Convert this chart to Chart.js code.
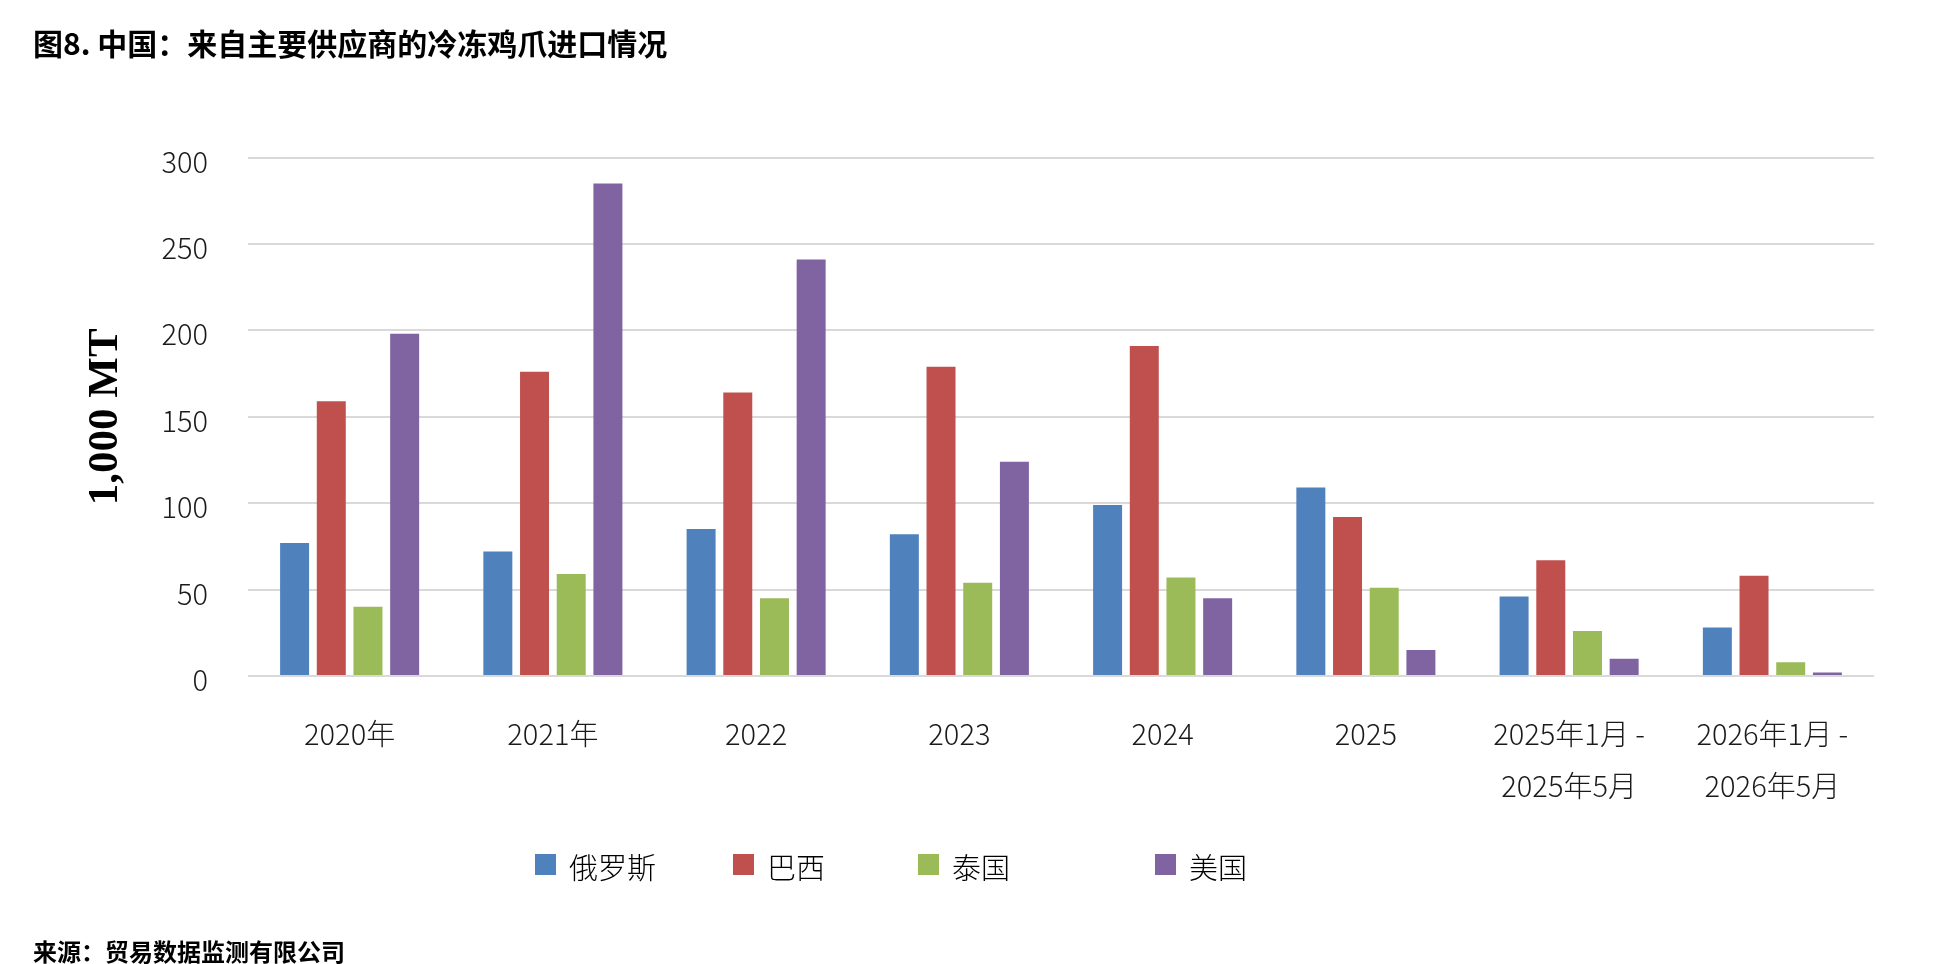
<!DOCTYPE html>
<html>
<head>
<meta charset="utf-8">
<script src="https://cdn.jsdelivr.net/npm/chart.js@4"></script>
<style>
    body { margin: 0; background: #fff; }
</style>
</head>
<body>
<canvas id="importChart" width="1945" height="964"></canvas>
<script>
// Kategori dan data (1,000 MT)
const categories = ['2020年', '2021年', '2022', '2023', '2024', '2025', ['2025年1月 -', '2025年5月'], ['2026年1月 -', '2026年5月']];
const seriesNames = ['俄罗斯', '巴西', '泰国', '美国'];
const russia = [77, 72, 85, 82, 99, 109, 46, 28];
const brazil = [159, 176, 164, 179, 191, 92, 67, 58];
const thailand = [40, 59, 45, 54, 57, 51, 26, 8];
const usa = [198, 285, 241, 124, 45, 15, 10, 2];
const yTicks = [0, 50, 100, 150, 200, 250, 300];

const colors = ['#4F81BD', '#C0504D', '#9BBB59', '#8064A2'];
const cjk = '"Noto Sans CJK SC", "Noto Sans", sans-serif';

// posisi legend (seperti di gambar, jaraknya tidak rata)
const legendX = [535, 733, 918, 1155];

const legendPlugin = {
    id: 'manualLegend',
    afterDraw(chart) {
        const ctx = chart.ctx;
        ctx.save();
        ctx.font = '300 29px ' + cjk;
        ctx.textBaseline = 'middle';
        ctx.textAlign = 'left';
        chart.data.datasets.forEach((ds, i) => {
            const x = legendX[i];
            ctx.fillStyle = ds.backgroundColor;
            ctx.fillRect(x, 854, 21, 21);
            ctx.fillStyle = '#000';
            ctx.fillText(ds.label, x + 34, 868);
        });
        ctx.restore();
    }
};

const data = {
    labels: categories,
    datasets: [russia, brazil, thailand, usa].map((values, i) => ({
        label: seriesNames[i],
        data: values,
        backgroundColor: colors[i],
        borderWidth: 0,
        categoryPercentage: 0.722,
        barPercentage: 0.79,
    }))
};

const options = {
    responsive: false,
    animation: false,
    layout: {
        padding: { left: 33, right: 71, top: 0, bottom: 0 }
    },
    scales: {
        y: {
            min: 0,
            max: 300,
            afterFit(scale) { scale.width = 215; },
            afterBuildTicks(scale) { scale.ticks = yTicks.map(v => ({ value: v })); },
            border: { display: false },
            grid: {
                color: '#d9d9d9',
                lineWidth: 2,
                drawTicks: false,
            },
            ticks: {
                padding: 40,
                labelOffset: 4,
                color: '#1a1a1a',
                font: { family: cjk, size: 29, weight: '300' },
            },
            title: {
                display: true,
                text: '1,000 MT',
                color: '#000',
                padding: { top: 47, bottom: 0 },
                font: { family: '"Liberation Serif", "Times New Roman", serif', size: 43, weight: 'bold' },
            }
        },
        x: {
            afterFit(scale) { scale.height = 264; },
            border: { display: false },
            grid: { display: false, drawTicks: false },
            ticks: {
                padding: 32,
                maxRotation: 0,
                autoSkip: false,
                color: '#1a1a1a',
                font: { family: cjk, size: 29, weight: '300', lineHeight: 1.79 },
            }
        }
    },
    plugins: {
        legend: { display: false },
        tooltip: { enabled: false },
        title: {
            display: true,
            text: '图8. 中国：来自主要供应商的冷冻鸡爪进口情况',
            align: 'start',
            color: '#000',
            font: { family: cjk, size: 30, weight: 'bold', lineHeight: 1 },
            padding: { top: 29, bottom: 98.5 },
        },
        subtitle: {
            display: true,
            position: 'bottom',
            text: '来源：贸易数据监测有限公司',
            align: 'start',
            color: '#000',
            font: { family: cjk, size: 24, weight: 'bold', lineHeight: 1 },
            padding: { top: 0, bottom: 0 },
        }
    }
};

new Chart(document.getElementById('importChart'), {
    type: 'bar',
    data: data,
    options: options,
    plugins: [legendPlugin]
});
</script>
</body>
</html>
